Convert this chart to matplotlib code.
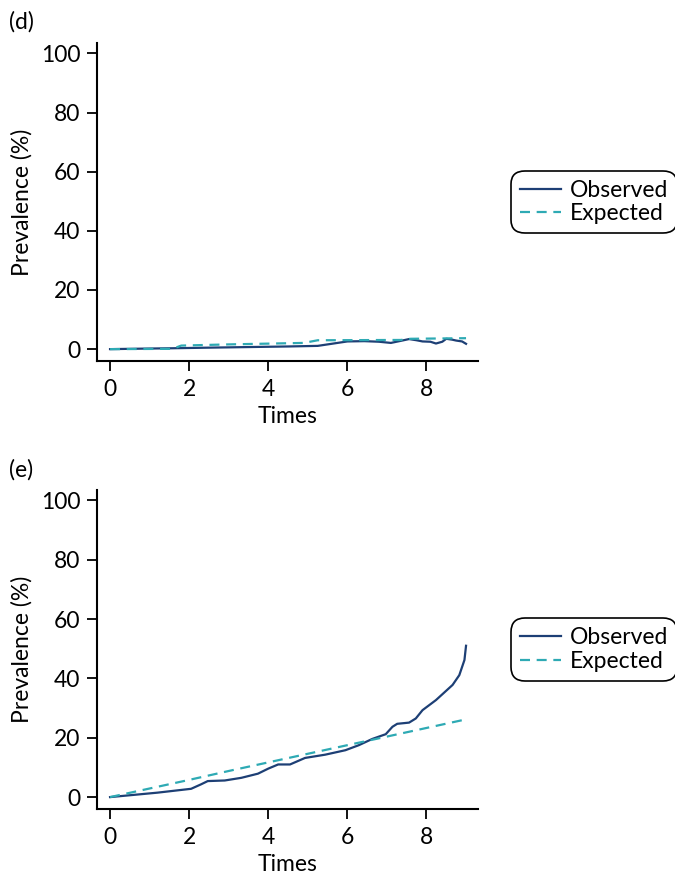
import matplotlib
matplotlib.use("Agg")
import matplotlib.pyplot as plt
import numpy as np

plt.rcParams['font.family'] = ['Lato', 'DejaVu Sans']

# Panel (d)
d_obs_x = [0, 1.0, 1.6, 2.5, 3.5, 4.5, 5.25, 5.6, 6.0, 6.43, 6.8, 7.1, 7.35, 7.56, 7.75, 7.9, 8.1, 8.24, 8.4, 8.5, 8.65, 8.75, 8.9, 9.0]
d_obs_y = [0, 0.2, 0.3, 0.5, 0.7, 0.9, 1.1, 1.8, 2.6, 2.7, 2.5, 2.1, 2.8, 3.4, 3.0, 2.6, 2.5, 1.9, 2.5, 3.5, 3.2, 2.9, 2.6, 1.8]
d_exp_x = [0, 1.58, 1.8, 3.0, 4.9, 5.25, 7.35, 7.6, 9.0]
d_exp_y = [0, 0.1, 1.2, 1.6, 2.1, 3.0, 3.1, 3.5, 3.7]

# Panel (e)
e_obs_x = [0, 1.2, 2.05, 2.3, 2.47, 2.9, 3.32, 3.74, 4.0, 4.25, 4.55, 4.93, 5.44, 5.95, 6.29, 6.63, 6.97, 7.14, 7.26, 7.56, 7.73, 7.9, 8.24, 8.66, 8.83, 8.96, 9.0]
e_obs_y = [0, 1.5, 2.8, 4.3, 5.4, 5.6, 6.5, 7.9, 9.6, 11.0, 11.0, 13.2, 14.3, 15.8, 17.5, 19.6, 21.2, 23.7, 24.7, 25.1, 26.5, 29.3, 32.7, 37.8, 41.1, 46.2, 51.0]
e_exp_x = [0, 1, 2, 3, 4, 5, 6, 7, 8, 9]
e_exp_y = [0, 2.9, 5.8, 8.8, 11.7, 14.6, 17.5, 20.4, 23.3, 26.2]

panels = [("(d)", d_obs_x, d_obs_y, d_exp_x, d_exp_y),
          ("(e)", e_obs_x, e_obs_y, e_exp_x, e_exp_y)]

OBS_C = '#1d3f75'
EXP_C = '#2eaab4'
FS = 16.5

fig = plt.figure(figsize=(6.75, 8.74), dpi=100)
positions = [[0.1437, 0.587, 0.5643, 0.3638], [0.1437, 0.0744, 0.5643, 0.365]]
label_y = [0.975, 0.462]

for (lab, ox, oy, ex, ey), pos, ly in zip(panels, positions, label_y):
    ax = fig.add_axes(pos)
    ax.plot(ox, oy, color=OBS_C, lw=1.6, label='Observed')
    ax.plot(ex, ey, color=EXP_C, lw=1.6, ls=(0, (4.5, 3)), label='Expected')
    ax.set_xlim(-0.33, 9.3)
    ax.set_ylim(-4, 103.5)
    ax.set_xticks([0, 2, 4, 6, 8])
    ax.set_yticks([0, 20, 40, 60, 80, 100])
    ax.spines['top'].set_visible(False)
    ax.spines['right'].set_visible(False)
    for s in ['left', 'bottom']:
        ax.spines[s].set_linewidth(1.5)
    ax.tick_params(axis='both', labelsize=FS, length=7, width=1.3, direction='out')
    ax.tick_params(axis='x', pad=6)
    ax.tick_params(axis='y', pad=5)
    ax.set_xlabel('Times', fontsize=FS, labelpad=4)
    ax.set_ylabel('Prevalence (%)', fontsize=FS, labelpad=6)
    leg = ax.legend(loc='center left', bbox_to_anchor=(1.096, 0.5), fontsize=FS,
                    frameon=True, fancybox=True, edgecolor='black', handlelength=1.8,
                    handletextpad=0.35, borderpad=0.25, borderaxespad=0.0,
                    labelspacing=0.1, framealpha=1)
    leg.get_frame().set_linewidth(1.2)
    leg.get_frame().set_boxstyle('round,pad=0.15,rounding_size=0.6')
    fig.text(0.014, ly, lab, fontsize=FS, ha='left', va='center')

fig.savefig('out.png', dpi=100)
